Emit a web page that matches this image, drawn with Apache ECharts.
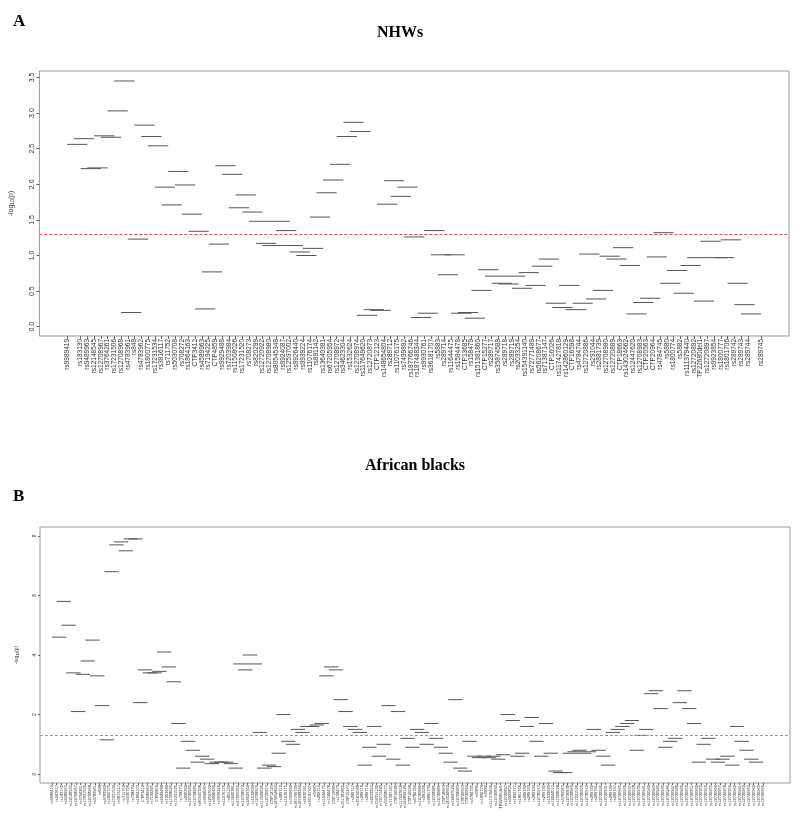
<!DOCTYPE html>
<html><head><meta charset="utf-8">
<script src="https://cdn.jsdelivr.net/npm/echarts@6/dist/echarts.min.js"></script>
<style>html,body{margin:0;padding:0;background:#fff}#c{width:800px;height:819px}</style>
</head><body><div id="c"></div>
<script>
// ---------- Panel A: NHWs ----------
const nhwSnps = ["rs9989419","rs247617","rs183130","rs9489963","rs12148545","rs12708967","rs3764261","rs17231506","rs12708968","rs4783961","rs848","rs4783962","rs1800775","rs17231534","rs3816117","rs711752","rs5030708","rs708272","rs1864163","CTP3412","rs4589963","rs7194225","CTP4859","rs9929488","rs7203984","rs11508026","rs17231520","rs708273","rs820299","rs12720922","rs12708980","rs80545348","rs9924087","rs12597002","rs9926440","rs9939224","rs11076174","rs891142","rs13640381","rs67205954","rs12708972","rs34623304","rs1532624","rs12708974","rs117649620","rs12720873","CTP12123","rs148654804","rs289712","rs11076175","rs7499892","rs187766746","rs187488344","rs9930761","rs36181707","rs5883","rs289714","rs11644475","rs1584478","CTP13685","rs158479","rs151381860","CTP15277","rs289717","rs35874588","rs289718","rs289719","rs2033254","rs154391140","rs72771489","rs56208677","rs71387147","CTP16026","rs117427818","rs142860129","CTP16598","rs4784744","rs12720886","rs291044","rs2881739","rs12708980","rs12720889","CTP18663","rs143024662","rs12447620","rs12708983","CTP20563","CTP20964","rs4784745","rs5880","rs1800774","rs5882","rs111379440","rs12720892","TP22680del1","rs12720897","rs9923854","rs1800777","rs1801706","rs289742","rs289743","rs289744","rs12720917","rs289745"];
// -log10(p) of each 4-SNP sliding window (window i spans SNP i .. i+3)
const nhwWin = [2.56,2.64,2.22,2.23,2.68,2.66,3.03,3.45,0.20,1.23,
 2.83,2.67,2.54,1.96,1.71,2.18,1.99,1.58,1.34,0.25,
 0.77,1.16,2.26,2.14,1.67,1.85,1.61,1.48,1.17,1.14,
 1.48,1.35,1.14,1.05,1.00,1.10,1.54,1.88,2.06,2.28,
 2.67,2.87,2.74,0.16,0.24,0.23,1.72,2.05,1.83,1.96,
 1.26,0.13,0.19,1.35,1.01,0.73,1.01,0.19,0.20,0.12,
 0.51,0.80,0.71,0.61,0.60,0.71,0.54,0.76,0.58,0.85,
 0.95,0.33,0.27,0.58,0.24,0.33,1.02,0.39,0.51,0.99,
 0.95,1.11,0.86,0.18,0.34,0.40,0.98,1.32,0.61,0.79,
 0.47,0.86,0.97,0.36,1.20,0.97,0.97,1.22,0.61,0.31,0.18];
const nhwYTicks = [0,0.5,1,1.5,2,2.5,3,3.5];
const nhwYTickLabels = ["0.0","0.5","1.0","1.5","2.0","2.5","3.0","3.5"];

// ---------- Panel B: African blacks ----------
const afbSnps = nhwSnps.concat(["rs1532625","rs12444012","rs11508028","rs4783963","rs12720838","rs12708969","rs17231526","rs12720900","rs12720910","rs289740","rs289741","rs12720926","rs12720931","rs289746","rs289747","rs12720935","rs12720936","rs12720937","rs12720938","rs12720939","rs12720941","rs12720942","rs12720943","rs12720944","rs12720945","rs12720946","rs12720947","rs12720948","rs12720949","rs12720950","rs12720951","rs12720952","rs12720953","rs12720954","rs12720955","rs12720956","rs12720957","rs12720958","rs12720959","rs12720960","rs12720961","rs12720962","rs12720963","rs12720964","rs12720965","rs12720966"]);
const afbWin = [4.6,5.8,5.0,3.4,2.1,3.35,3.8,4.5,3.3,2.3,
 1.15,6.8,7.7,7.8,7.5,7.9,7.9,2.4,3.5,3.4,
 3.4,3.45,4.1,3.6,3.1,1.7,0.2,1.1,0.8,0.4,
 0.6,0.5,0.35,0.4,0.4,0.4,0.35,0.2,3.7,3.5,
 4.0,3.7,1.4,0.2,0.3,0.25,0.7,2.0,1.1,1.0,
 1.5,1.4,1.6,1.6,1.65,1.7,3.3,3.6,3.5,2.5,
 2.1,1.6,1.5,1.4,0.3,0.9,1.6,0.6,1.0,2.3,
 0.5,2.1,0.3,1.2,0.9,1.5,1.4,1.0,1.7,1.2,
 0.9,0.7,0.4,2.5,0.2,0.1,1.1,0.6,0.55,0.6,
 0.55,0.6,0.5,0.65,2.0,1.8,0.6,0.7,1.6,1.9,
 1.1,0.6,1.7,0.7,0.1,0.05,0.05,0.7,0.75,0.8,
 0.7,0.75,1.5,0.8,0.6,0.3,1.4,1.5,1.6,1.7,
 1.8,0.8,1.3,1.5,2.7,2.8,2.2,0.9,1.1,1.2,
 2.4,2.8,2.2,1.7,0.4,1.0,1.2,0.5,0.4,0.5,
 0.6,0.3,1.6,1.1,0.8,0.5,0.4];
const afbYTicks = [0,2,4,6,8];
const afbYTickLabels = ["0","2","4","6","8"];

const threshold = 1.30103; // -log10(0.05)
const windowSpan = 3;

function panel(gi, snps, win, yTicks, yLabels, xMin, xMax, yMin, yMax, opt){
  const idx = snps.map((_, i) => i);
  const xAxis = {
    type:'value', gridIndex:gi, min:xMin, max:xMax,
    axisLine:{show:false,onZero:false},
    axisTick:{show:true,customValues:idx,length:opt.tickLen,lineStyle:{color:'#666'}},
    axisLabel:{show:true,customValues:idx,rotate:90,fontSize:opt.xFont,color:'#333',margin:opt.xMargin,
      showMinLabel:true,showMaxLabel:true,hideOverlap:false,
      fontFamily:'Liberation Sans, Arial, sans-serif',
      formatter:(v)=>snps[Math.round(v)]},
    splitLine:{show:false}
  };
  const yAxis = {
    type:'value', gridIndex:gi, min:yMin, max:yMax,
    axisLine:{show:false,onZero:false},
    axisTick:{show:true,customValues:yTicks,length:opt.tickLen,lineStyle:{color:'#666'}},
    axisLabel:{show:true,customValues:yTicks,rotate:90,fontSize:opt.yFont,color:'#333',margin:opt.yMargin,
      showMinLabel:true,showMaxLabel:true,
      fontFamily:'Liberation Sans, Arial, sans-serif',
      formatter:(v)=>{const k=yTicks.indexOf(v);return k>=0?yLabels[k]:'';}},
    splitLine:{show:false},
    name:'{a|-log}{s|10}{a|(p)}', nameLocation:'middle', nameRotate:90, nameGap:opt.nameGap,
    nameTextStyle:{rich:{a:{fontSize:opt.nameFont,color:'#333',fontFamily:'Liberation Sans, Arial'},
                         s:{fontSize:opt.nameFont*0.7,color:'#333',verticalAlign:'bottom',padding:[opt.nameFont*0.4,0,0,0],fontFamily:'Liberation Sans, Arial'}}}
  };
  const series = {
    type:'custom', xAxisIndex:gi, yAxisIndex:gi,
    data: win.map((v,i)=>[i,v]),
    renderItem:(params, api)=>{
      const p0 = api.coord([api.value(0), api.value(1)]);
      const p1 = api.coord([api.value(0)+windowSpan, api.value(1)]);
      return {type:'line', shape:{x1:p0[0],y1:p0[1],x2:p1[0],y2:p1[1]},
        style:{stroke:opt.lineColor,lineWidth:1}};
    },
    markLine:{silent:true,symbol:'none',label:{show:false},
      lineStyle:{color:opt.thrColor,type:[3,2],width:1},
      data:[{yAxis:threshold}]},
    clip:false
  };
  return {xAxis, yAxis, series};
}

const nA = nhwSnps.length, nB = afbSnps.length;
const A = panel(0, nhwSnps, nhwWin, nhwYTicks, nhwYTickLabels, -(nA-1)*0.04, (nA-1)*1.04, -0.13, 3.59,
  {tickLen:3,xFont:6.5,yFont:7,xMargin:3,yMargin:4,nameGap:24,nameFont:7,lineColor:'#555',thrColor:'#e05050'});
const B = panel(1, afbSnps, afbWin, afbYTicks, afbYTickLabels, -2.5, (nB-1)+5.6, -0.3, 8.3,
  {tickLen:2,xFont:4,yFont:5,xMargin:2,yMargin:3,nameGap:20,nameFont:5,lineColor:'#555',thrColor:'#b09090'});

const chart = echarts.init(document.getElementById('c'), null, {renderer:'canvas'});
chart.setOption({
  backgroundColor:'#fff',
  animation:false,
  title:[
    {text:'A',left:8,top:8,textStyle:{fontFamily:'Liberation Serif, Times New Roman, serif',fontWeight:'bold',fontSize:17,color:'#000'}},
    {text:'NHWs',left:'center',top:20,textStyle:{fontFamily:'Liberation Serif, Times New Roman, serif',fontWeight:'bold',fontSize:16,color:'#000'}},
    {text:'African blacks',left:410,top:453,textAlign:'center',textStyle:{fontFamily:'Liberation Serif, Times New Roman, serif',fontWeight:'bold',fontSize:16,color:'#000'}},
    {text:'B',left:8,top:483,textStyle:{fontFamily:'Liberation Serif, Times New Roman, serif',fontWeight:'bold',fontSize:17,color:'#000'}}
  ],
  grid:[
    {left:36,top:71,width:753,height:265,show:true,borderColor:'#999',borderWidth:1,backgroundColor:'transparent'},
    {left:40,top:527,width:750,height:256,show:true,borderColor:'#999',borderWidth:1,backgroundColor:'transparent'}
  ],
  xAxis:[A.xAxis,B.xAxis],
  yAxis:[A.yAxis,B.yAxis],
  series:[A.series,B.series]
});
</script></body></html>
